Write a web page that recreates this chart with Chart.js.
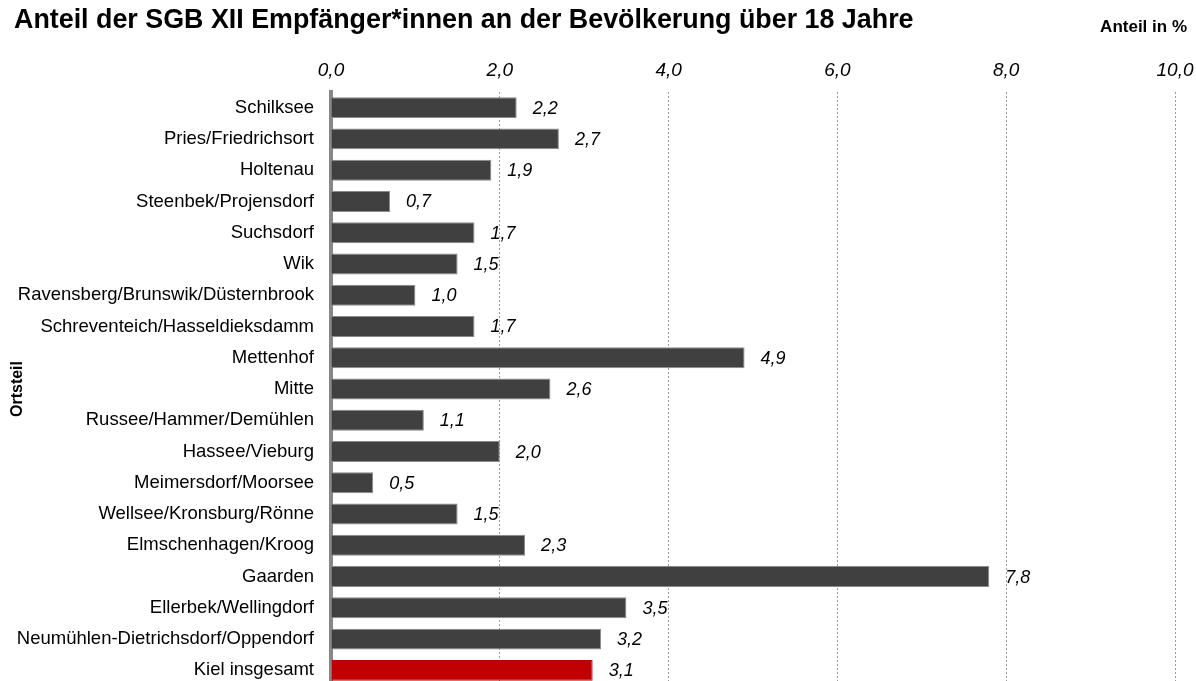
<!DOCTYPE html>
<html lang="de">
<head>
<meta charset="utf-8">
<title>Anteil der SGB XII Empfänger*innen</title>
<script src="https://cdn.jsdelivr.net/npm/chart.js@4"></script>
<style>
  html, body { margin: 0; padding: 0; background: #fff; overflow: hidden; }
  canvas { display: block; }
</style>
</head>
<body>
<!-- the last row runs a few pixels past the window edge -->
<canvas id="myChart" width="1196" height="686"></canvas>
<script>
const titleText = 'Anteil der SGB XII Empfänger*innen an der Bevölkerung über 18 Jahre';
const unitText = 'Anteil in %';
const axisTitle = 'Ortsteil';

const districts = [
    'Schilksee', 'Pries/Friedrichsort', 'Holtenau', 'Steenbek/Projensdorf', 'Suchsdorf', 'Wik',
    'Ravensberg/Brunswik/Düsternbrook', 'Schreventeich/Hasseldieksdamm', 'Mettenhof', 'Mitte',
    'Russee/Hammer/Demühlen', 'Hassee/Vieburg', 'Meimersdorf/Moorsee', 'Wellsee/Kronsburg/Rönne',
    'Elmschenhagen/Kroog', 'Gaarden', 'Ellerbek/Wellingdorf', 'Neumühlen-Dietrichsdorf/Oppendorf',
    'Kiel insgesamt'
];
const shares = [2.2, 2.7, 1.9, 0.7, 1.7, 1.5, 1.0, 1.7, 4.9, 2.6, 1.1, 2.0, 0.5, 1.5, 2.3, 7.8, 3.5, 3.2, 3.1];
const xTicks = [0, 2, 4, 6, 8, 10];

const FONT = '"Liberation Sans", Arial, sans-serif';
const fmt = v => v.toFixed(1).replace('.', ',');

// Kiel overall gets the red bar
const barColors = districts.map(d => d === 'Kiel insgesamt' ? '#c00000' : '#404040');
const edgeColors = districts.map(d => d === 'Kiel insgesamt' ? '#c00000' : '#8a8a8a');

// title, unit note and value labels
const textPlugin = {
    id: 'texts',
    afterDatasetsDraw(chart) {
        const ctx = chart.ctx;
        const meta = chart.getDatasetMeta(0);
        ctx.save();
        ctx.fillStyle = '#000';
        ctx.font = 'italic 18px ' + FONT;
        ctx.textAlign = 'left';
        ctx.textBaseline = 'middle';
        meta.data.forEach((bar, i) => {
            ctx.fillText(fmt(shares[i]), bar.x + 16, bar.y + 1);
        });
        ctx.restore();
    },
    afterDraw(chart) {
        const ctx = chart.ctx;
        ctx.save();
        ctx.fillStyle = '#000';
        ctx.textBaseline = 'middle';
        ctx.font = 'bold 26.85px ' + FONT;
        ctx.textAlign = 'left';
        ctx.fillText(titleText, 14, 21);
        ctx.font = 'bold 17px ' + FONT;
        ctx.textAlign = 'right';
        ctx.fillText(unitText, 1187, 27);
        ctx.restore();
    }
};

const ctx = document.getElementById('myChart').getContext('2d');
new Chart(ctx, {
    type: 'bar',
    data: {
        labels: districts,
        datasets: [{
            data: shares,
            backgroundColor: barColors,
            borderColor: edgeColors,
            borderWidth: 1,
            borderSkipped: 'start',
            categoryPercentage: 1,
            barPercentage: 0.67
        }]
    },
    options: {
        indexAxis: 'y',
        responsive: false,
        animation: false,
        layout: { padding: { top: 0, right: 21, bottom: 0, left: 0 } },
        plugins: {
            legend: { display: false },
            tooltip: { enabled: false }
        },
        scales: {
            x: {
                position: 'top',
                min: 0,
                max: 10,
                afterFit(scale) {
                    scale.height = 92;
                    // labels may hang over the plot edges
                    scale.paddingLeft = 0;
                    scale.paddingRight = 0;
                },
                afterBuildTicks(scale) { scale.ticks = xTicks.map(v => ({ value: v })); },
                grid: {
                    color: '#9a9a9a',
                    lineWidth: 1,
                    drawTicks: false
                },
                border: { display: false, dash: [2, 2] },
                ticks: {
                    padding: 10,
                    color: '#000',
                    font: { family: FONT, size: 19, style: 'italic' },
                    callback: v => fmt(v)
                }
            },
            y: {
                afterFit(scale) {
                    scale.width = 331;
                    scale.paddingTop = 0;
                    scale.paddingBottom = 0;
                },
                grid: { display: false, drawTicks: false },
                border: { display: true, color: '#878787', width: 4 },
                ticks: {
                    padding: 17,
                    color: '#000',
                    autoSkip: false,
                    font: { family: FONT, size: 18.5 }
                },
                title: {
                    display: true,
                    text: axisTitle,
                    color: '#000',
                    padding: { top: 8, bottom: 0 },
                    font: { family: FONT, size: 16, weight: 'bold' }
                }
            }
        }
    },
    plugins: [textPlugin]
});
</script>
</body>
</html>
